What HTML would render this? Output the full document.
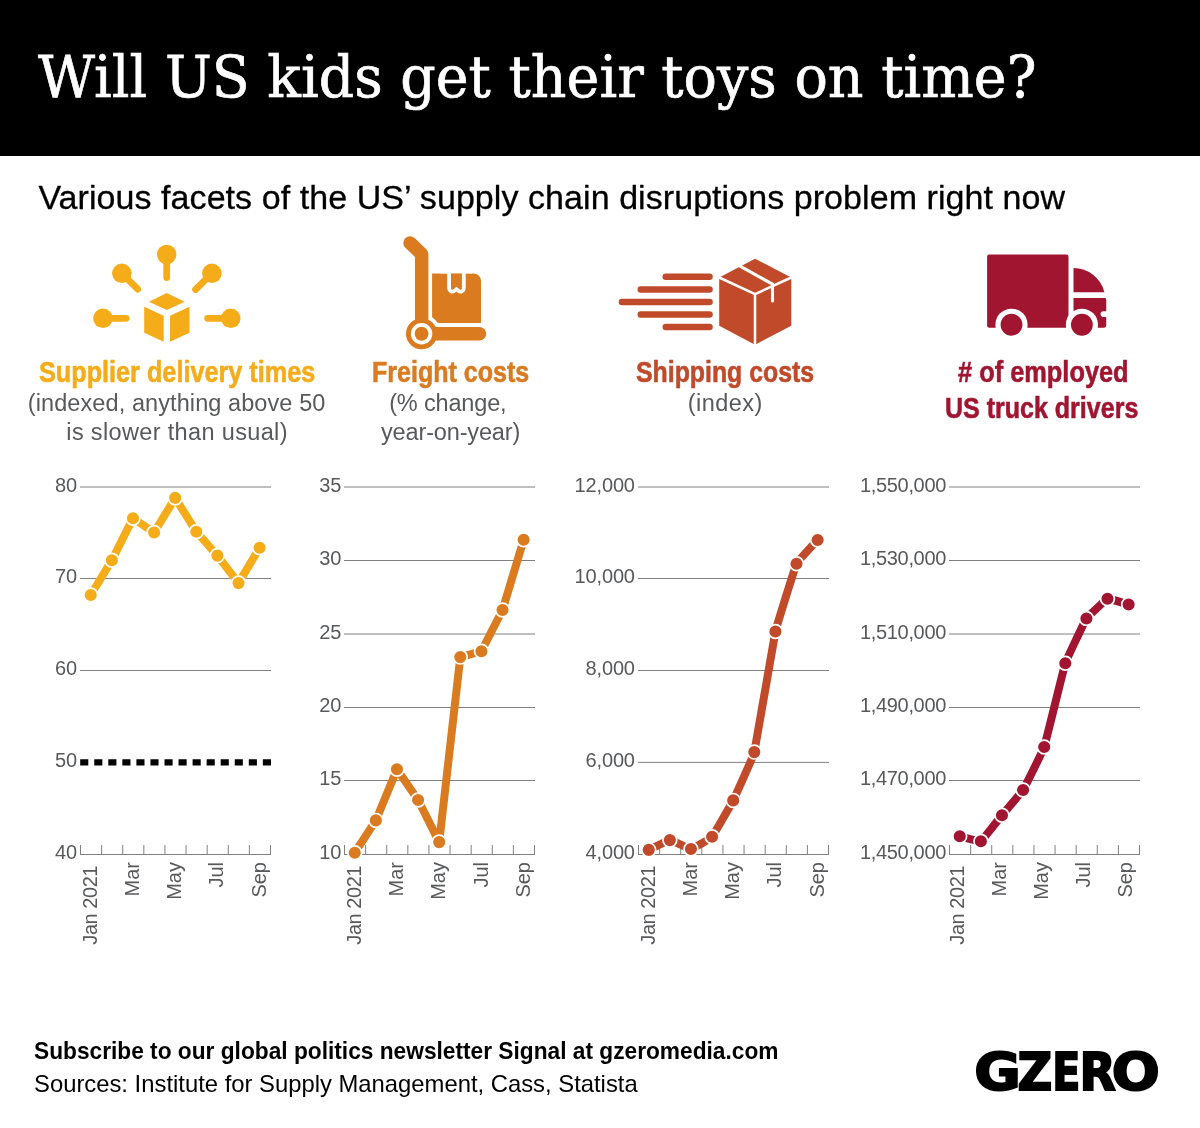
<!DOCTYPE html>
<html lang="en">
<head>
<meta charset="utf-8">
<title>Will US kids get their toys on time?</title>
<style>
html,body{margin:0;padding:0;background:#fff;}
body{width:1200px;height:1128px;position:relative;overflow:hidden;font-family:"Liberation Sans",sans-serif;color:#000;}
.hdr{position:absolute;left:0;top:0;width:1200px;height:156px;background:#000;}
.t{position:absolute;white-space:nowrap;margin:0;line-height:1;}
.t{transform-origin:0 0;}
h1.t{color:#fff;font-family:"DejaVu Serif","Liberation Serif",serif;font-weight:normal;-webkit-text-stroke:0.7px #fff;}
.sub{-webkit-text-stroke:0.3px #000;}
.ct{font-weight:bold;-webkit-text-stroke:0.6px currentColor;}
.cs{color:#58595B;}
svg{position:absolute;left:0;top:0;}
.ax{font-family:"Liberation Sans",sans-serif;font-size:20px;fill:#58595B;}
</style>
</head>
<body>
<div class="hdr"></div>
<h1 class="t" id="title" style="left:37.76px;top:48.11px;font-size:58.2px;transform:scaleX(0.9534);">Will US kids get their toys on time?</h1>
<p class="t sub" id="sub" style="left:38.38px;top:180.31px;font-size:34px;letter-spacing:0.063px;">Various facets of the US’ supply chain disruptions problem right now</p>

<svg width="1200" height="1128" viewBox="0 0 1200 1128">
<g id="icons">
<g id="icon-supplier" fill="#F5AC19" stroke="#F5AC19" stroke-width="6.75" stroke-linecap="round">
<path d="M166.7,254.5V277.6M121.85,273.35L137.7,289.2M211.85,273.35L195.6,289.5M102.95,318.35H126.1M230.75,318.35H207.6" fill="none"/>
<g stroke="none">
<circle cx="166.7" cy="254.5" r="9.75"/><circle cx="121.85" cy="273.35" r="9.75"/><circle cx="211.85" cy="273.35" r="9.75"/>
<circle cx="102.95" cy="318.35" r="9.75"/><circle cx="230.75" cy="318.35" r="9.75"/>
<path d="M166.7,293L184.7,301.7L166.7,310L149,301.7Z"/>
<path d="M144.2,306.8L163.7,315.8V341.75L144.2,332.75Z"/>
<path d="M170,315.8L189.5,306.8V332.75L170,341.75Z"/>
</g>
</g>
<g id="icon-freight" fill="#DA7B20">
<path d="M432.1,273.4H473.5A7.5,7.5 0 0 1 481,280.9V323.1H432.1Z"/>
<circle cx="421.6" cy="333.75" r="19.5" fill="#fff"/>
<path d="M451,270H461.9V288.4A1.3,1.3 0 0 1 459.8,289.4L456.45,286.7L453.1,289.4A1.3,1.3 0 0 1 451,288.4Z" fill="#fff" stroke="#fff" stroke-width="7.6" stroke-linejoin="round"/>
<path d="M451,270H461.9V288.4A1.3,1.3 0 0 1 459.8,289.4L456.45,286.7L453.1,289.4A1.3,1.3 0 0 1 451,288.4Z"/><rect x="440" y="262" width="32" height="11.4" fill="#fff"/>
<path d="M410,242.9L421.7,254.1V333.75" fill="none" stroke="#DA7B20" stroke-width="13.4" stroke-linecap="round" stroke-linejoin="round"/>
<path d="M421.6,333.75H479.4" fill="none" stroke="#DA7B20" stroke-width="13.7" stroke-linecap="round"/>
<circle cx="421.6" cy="333.75" r="15.6"/>
<circle cx="421.6" cy="333.75" r="10.75" fill="#fff"/>
<circle cx="421.6" cy="333.75" r="6.9"/>
</g>
<g id="icon-shipping" fill="#C04A29">
<path d="M665.8,276.8H709.5M640.8,289.5H709.5M622,302H709.5M640.8,314.5H709.5M665.8,327H709.5" fill="none" stroke="#C04A29" stroke-width="6.6" stroke-linecap="round"/>
<path d="M755,258.7L791.3,277.5V325.8L755,344.7L719.2,325.8V277.5Z"/>
<path d="M719.2,277.5L755,294.2L791.3,277.5M755,294.2V345" fill="none" stroke="#fff" stroke-width="2.5" stroke-linecap="round"/>
<path d="M740.5,266.4L772.5,284.2V301" fill="none" stroke="#fff" stroke-width="3.1" stroke-linecap="round" stroke-linejoin="round"/>
</g>
<g id="icon-truck" fill="#A11531">
<rect x="987.1" y="254.6" width="81.4" height="73.15" rx="2.2"/>
<path d="M1073.5,268.1A31.9,31.9 0 0 1 1104.4,292.25H1073.5Z"/>
<path d="M1073.5,297.9H1105.6L1106.25,300V325.6A2.2,2.2 0 0 1 1104,327.75H1073.5Z"/>
<path d="M1107,311.25H1103.4A2.8,2.8 0 0 0 1103.4,316.9H1107Z" fill="#fff"/>
<circle cx="1011.5" cy="324.75" r="16.1" fill="#fff"/>
<circle cx="1081.9" cy="324.75" r="16.1" fill="#fff"/>
<circle cx="1011.5" cy="324.75" r="10.9"/>
<circle cx="1081.9" cy="324.75" r="10.9"/>
</g>

</g>
<g id="chart1">
<line x1="80.00" x2="271.00" y1="487.00" y2="487.00" stroke="#808080" stroke-width="1"/>
<line x1="80.00" x2="271.00" y1="578.50" y2="578.50" stroke="#808080" stroke-width="1"/>
<line x1="80.00" x2="271.00" y1="670.50" y2="670.50" stroke="#808080" stroke-width="1"/>
<line x1="80.20" x2="271.00" y1="762.40" y2="762.40" stroke="#000" stroke-width="6.4" stroke-dasharray="8.1 5.95"/>
<text x="77.20" y="491.90" text-anchor="end" class="ax">80</text>
<text x="77.20" y="583.40" text-anchor="end" class="ax">70</text>
<text x="77.20" y="675.40" text-anchor="end" class="ax">60</text>
<text x="77.20" y="767.30" text-anchor="end" class="ax">50</text>
<text x="77.20" y="859.40" text-anchor="end" class="ax">40</text>
<path d="M80.00,854.50H271.00M80.50,855.00V845.00M101.61,855.00V845.00M122.72,855.00V845.00M143.83,855.00V845.00M164.94,855.00V845.00M186.05,855.00V845.00M207.16,855.00V845.00M228.27,855.00V845.00M249.38,855.00V845.00M270.49,855.00V845.00" stroke="#808080" stroke-width="1" fill="none"/>
<path d="M90.75,595.00L111.86,560.20L132.97,518.30L154.08,532.50L175.19,497.90L196.30,531.70L217.41,555.60L238.52,583.10L259.63,547.70" stroke="#F5AC19" stroke-width="8" fill="none" stroke-linejoin="round" stroke-linecap="round"/>
<circle cx="90.75" cy="595.00" r="6.9" fill="#F5AC19" stroke="#fff" stroke-width="1.7"/>
<circle cx="111.86" cy="560.20" r="6.9" fill="#F5AC19" stroke="#fff" stroke-width="1.7"/>
<circle cx="132.97" cy="518.30" r="6.9" fill="#F5AC19" stroke="#fff" stroke-width="1.7"/>
<circle cx="154.08" cy="532.50" r="6.9" fill="#F5AC19" stroke="#fff" stroke-width="1.7"/>
<circle cx="175.19" cy="497.90" r="6.9" fill="#F5AC19" stroke="#fff" stroke-width="1.7"/>
<circle cx="196.30" cy="531.70" r="6.9" fill="#F5AC19" stroke="#fff" stroke-width="1.7"/>
<circle cx="217.41" cy="555.60" r="6.9" fill="#F5AC19" stroke="#fff" stroke-width="1.7"/>
<circle cx="238.52" cy="583.10" r="6.9" fill="#F5AC19" stroke="#fff" stroke-width="1.7"/>
<circle cx="259.63" cy="547.70" r="6.9" fill="#F5AC19" stroke="#fff" stroke-width="1.7"/>
<text transform="translate(96.75,866.00) rotate(-90)" text-anchor="end" class="ax" letter-spacing="-0.46">Jan 2021</text>
<text transform="translate(138.97,862.00) rotate(-90)" text-anchor="end" class="ax">Mar</text>
<text transform="translate(181.19,862.00) rotate(-90)" text-anchor="end" class="ax">May</text>
<text transform="translate(223.41,862.00) rotate(-90)" text-anchor="end" class="ax">Jul</text>
<text transform="translate(265.63,862.00) rotate(-90)" text-anchor="end" class="ax">Sep</text>
</g>
<g id="chart2">
<line x1="344.00" x2="535.00" y1="487.00" y2="487.00" stroke="#808080" stroke-width="1"/>
<line x1="344.00" x2="535.00" y1="560.50" y2="560.50" stroke="#808080" stroke-width="1"/>
<line x1="344.00" x2="535.00" y1="634.00" y2="634.00" stroke="#808080" stroke-width="1"/>
<line x1="344.00" x2="535.00" y1="707.50" y2="707.50" stroke="#808080" stroke-width="1"/>
<line x1="344.00" x2="535.00" y1="780.50" y2="780.50" stroke="#808080" stroke-width="1"/>
<text x="341.40" y="491.90" text-anchor="end" class="ax">35</text>
<text x="341.40" y="565.40" text-anchor="end" class="ax">30</text>
<text x="341.40" y="638.90" text-anchor="end" class="ax">25</text>
<text x="341.40" y="712.40" text-anchor="end" class="ax">20</text>
<text x="341.40" y="785.40" text-anchor="end" class="ax">15</text>
<text x="341.40" y="859.40" text-anchor="end" class="ax">10</text>
<path d="M344.00,854.50H535.00M344.50,855.00V845.00M365.61,855.00V845.00M386.72,855.00V845.00M407.83,855.00V845.00M428.94,855.00V845.00M450.05,855.00V845.00M471.16,855.00V845.00M492.27,855.00V845.00M513.38,855.00V845.00M534.49,855.00V845.00" stroke="#808080" stroke-width="1" fill="none"/>
<path d="M354.75,852.75L375.86,820.40L396.97,769.20L418.08,800.00L439.19,842.10L460.30,657.10L481.41,651.25L502.52,610.00L523.63,539.80" stroke="#DA7B20" stroke-width="8" fill="none" stroke-linejoin="round" stroke-linecap="round"/>
<circle cx="354.75" cy="852.75" r="6.9" fill="#DA7B20" stroke="#fff" stroke-width="1.7"/>
<circle cx="375.86" cy="820.40" r="6.9" fill="#DA7B20" stroke="#fff" stroke-width="1.7"/>
<circle cx="396.97" cy="769.20" r="6.9" fill="#DA7B20" stroke="#fff" stroke-width="1.7"/>
<circle cx="418.08" cy="800.00" r="6.9" fill="#DA7B20" stroke="#fff" stroke-width="1.7"/>
<circle cx="439.19" cy="842.10" r="6.9" fill="#DA7B20" stroke="#fff" stroke-width="1.7"/>
<circle cx="460.30" cy="657.10" r="6.9" fill="#DA7B20" stroke="#fff" stroke-width="1.7"/>
<circle cx="481.41" cy="651.25" r="6.9" fill="#DA7B20" stroke="#fff" stroke-width="1.7"/>
<circle cx="502.52" cy="610.00" r="6.9" fill="#DA7B20" stroke="#fff" stroke-width="1.7"/>
<circle cx="523.63" cy="539.80" r="6.9" fill="#DA7B20" stroke="#fff" stroke-width="1.7"/>
<text transform="translate(360.85,866.00) rotate(-90)" text-anchor="end" class="ax" letter-spacing="-0.46">Jan 2021</text>
<text transform="translate(403.07,862.00) rotate(-90)" text-anchor="end" class="ax">Mar</text>
<text transform="translate(445.29,862.00) rotate(-90)" text-anchor="end" class="ax">May</text>
<text transform="translate(487.51,862.00) rotate(-90)" text-anchor="end" class="ax">Jul</text>
<text transform="translate(529.73,862.00) rotate(-90)" text-anchor="end" class="ax">Sep</text>
</g>
<g id="chart3">
<line x1="638.00" x2="829.00" y1="487.00" y2="487.00" stroke="#808080" stroke-width="1"/>
<line x1="638.00" x2="829.00" y1="578.50" y2="578.50" stroke="#808080" stroke-width="1"/>
<line x1="638.00" x2="829.00" y1="670.50" y2="670.50" stroke="#808080" stroke-width="1"/>
<line x1="638.00" x2="829.00" y1="762.40" y2="762.40" stroke="#808080" stroke-width="1"/>
<text x="634.85" y="491.90" text-anchor="end" class="ax" letter-spacing="-0.15">12,000</text>
<text x="634.85" y="583.40" text-anchor="end" class="ax" letter-spacing="-0.15">10,000</text>
<text x="634.85" y="675.40" text-anchor="end" class="ax" letter-spacing="-0.15">8,000</text>
<text x="634.85" y="767.30" text-anchor="end" class="ax" letter-spacing="-0.15">6,000</text>
<text x="634.85" y="859.40" text-anchor="end" class="ax" letter-spacing="-0.15">4,000</text>
<path d="M638.00,854.50H829.00M638.50,855.00V845.00M659.61,855.00V845.00M680.72,855.00V845.00M701.83,855.00V845.00M722.94,855.00V845.00M744.05,855.00V845.00M765.16,855.00V845.00M786.27,855.00V845.00M807.38,855.00V845.00M828.49,855.00V845.00" stroke="#808080" stroke-width="1" fill="none"/>
<path d="M648.75,849.90C649.38,849.61 668.59,840.13 669.86,840.10C671.13,840.07 689.70,849.10 690.97,849.00C692.24,848.90 710.81,838.26 712.08,836.80C713.35,835.34 731.92,802.94 733.19,800.40C734.46,797.86 753.03,757.17 754.30,752.10C755.57,747.03 774.14,637.15 775.41,631.50C776.68,625.85 795.25,566.54 796.52,563.80C797.79,561.05 817.00,540.71 817.63,540.00" stroke="#C04A29" stroke-width="8" fill="none" stroke-linejoin="round" stroke-linecap="round"/>
<circle cx="648.75" cy="849.90" r="6.9" fill="#C04A29" stroke="#fff" stroke-width="1.7"/>
<circle cx="669.86" cy="840.10" r="6.9" fill="#C04A29" stroke="#fff" stroke-width="1.7"/>
<circle cx="690.97" cy="849.00" r="6.9" fill="#C04A29" stroke="#fff" stroke-width="1.7"/>
<circle cx="712.08" cy="836.80" r="6.9" fill="#C04A29" stroke="#fff" stroke-width="1.7"/>
<circle cx="733.19" cy="800.40" r="6.9" fill="#C04A29" stroke="#fff" stroke-width="1.7"/>
<circle cx="754.30" cy="752.10" r="6.9" fill="#C04A29" stroke="#fff" stroke-width="1.7"/>
<circle cx="775.41" cy="631.50" r="6.9" fill="#C04A29" stroke="#fff" stroke-width="1.7"/>
<circle cx="796.52" cy="563.80" r="6.9" fill="#C04A29" stroke="#fff" stroke-width="1.7"/>
<circle cx="817.63" cy="540.00" r="6.9" fill="#C04A29" stroke="#fff" stroke-width="1.7"/>
<text transform="translate(654.75,866.00) rotate(-90)" text-anchor="end" class="ax" letter-spacing="-0.46">Jan 2021</text>
<text transform="translate(696.97,862.00) rotate(-90)" text-anchor="end" class="ax">Mar</text>
<text transform="translate(739.19,862.00) rotate(-90)" text-anchor="end" class="ax">May</text>
<text transform="translate(781.41,862.00) rotate(-90)" text-anchor="end" class="ax">Jul</text>
<text transform="translate(823.63,862.00) rotate(-90)" text-anchor="end" class="ax">Sep</text>
</g>
<g id="chart4">
<line x1="949.00" x2="1140.00" y1="487.00" y2="487.00" stroke="#808080" stroke-width="1"/>
<line x1="949.00" x2="1140.00" y1="560.50" y2="560.50" stroke="#808080" stroke-width="1"/>
<line x1="949.00" x2="1140.00" y1="634.00" y2="634.00" stroke="#808080" stroke-width="1"/>
<line x1="949.00" x2="1140.00" y1="707.50" y2="707.50" stroke="#808080" stroke-width="1"/>
<line x1="949.00" x2="1140.00" y1="780.50" y2="780.50" stroke="#808080" stroke-width="1"/>
<text x="945.96" y="491.90" text-anchor="end" class="ax" letter-spacing="-0.34">1,550,000</text>
<text x="945.96" y="565.40" text-anchor="end" class="ax" letter-spacing="-0.34">1,530,000</text>
<text x="945.96" y="638.90" text-anchor="end" class="ax" letter-spacing="-0.34">1,510,000</text>
<text x="945.96" y="712.40" text-anchor="end" class="ax" letter-spacing="-0.34">1,490,000</text>
<text x="945.96" y="785.40" text-anchor="end" class="ax" letter-spacing="-0.34">1,470,000</text>
<text x="945.96" y="859.40" text-anchor="end" class="ax" letter-spacing="-0.34">1,450,000</text>
<path d="M949.00,854.50H1140.00M949.50,855.00V845.00M970.61,855.00V845.00M991.72,855.00V845.00M1012.83,855.00V845.00M1033.94,855.00V845.00M1055.05,855.00V845.00M1076.16,855.00V845.00M1097.27,855.00V845.00M1118.38,855.00V845.00M1139.49,855.00V845.00" stroke="#808080" stroke-width="1" fill="none"/>
<path d="M959.75,836.25C960.38,836.40 979.59,841.88 980.86,841.25C982.13,840.62 1000.70,816.79 1001.97,815.25C1003.24,813.71 1021.81,792.05 1023.08,790.00C1024.35,787.95 1042.92,750.80 1044.19,747.00C1045.46,743.20 1064.03,667.11 1065.30,663.25C1066.57,659.39 1085.14,620.43 1086.41,618.50C1087.68,616.57 1106.25,599.17 1107.52,598.75C1108.79,598.33 1128.00,604.33 1128.63,604.50" stroke="#A11531" stroke-width="8" fill="none" stroke-linejoin="round" stroke-linecap="round"/>
<circle cx="959.75" cy="836.25" r="6.9" fill="#A11531" stroke="#fff" stroke-width="1.7"/>
<circle cx="980.86" cy="841.25" r="6.9" fill="#A11531" stroke="#fff" stroke-width="1.7"/>
<circle cx="1001.97" cy="815.25" r="6.9" fill="#A11531" stroke="#fff" stroke-width="1.7"/>
<circle cx="1023.08" cy="790.00" r="6.9" fill="#A11531" stroke="#fff" stroke-width="1.7"/>
<circle cx="1044.19" cy="747.00" r="6.9" fill="#A11531" stroke="#fff" stroke-width="1.7"/>
<circle cx="1065.30" cy="663.25" r="6.9" fill="#A11531" stroke="#fff" stroke-width="1.7"/>
<circle cx="1086.41" cy="618.50" r="6.9" fill="#A11531" stroke="#fff" stroke-width="1.7"/>
<circle cx="1107.52" cy="598.75" r="6.9" fill="#A11531" stroke="#fff" stroke-width="1.7"/>
<circle cx="1128.63" cy="604.50" r="6.9" fill="#A11531" stroke="#fff" stroke-width="1.7"/>
<text transform="translate(963.55,866.00) rotate(-90)" text-anchor="end" class="ax" letter-spacing="-0.46">Jan 2021</text>
<text transform="translate(1005.77,862.00) rotate(-90)" text-anchor="end" class="ax">Mar</text>
<text transform="translate(1047.99,862.00) rotate(-90)" text-anchor="end" class="ax">May</text>
<text transform="translate(1090.21,862.00) rotate(-90)" text-anchor="end" class="ax">Jul</text>
<text transform="translate(1132.43,862.00) rotate(-90)" text-anchor="end" class="ax">Sep</text>
</g>
<text id="logo" y="1089.50" font-family="'DejaVu Sans','Liberation Sans',sans-serif" font-weight="bold" font-size="50.75" fill="#000" stroke="#000" stroke-width="2.0" stroke-linejoin="miter"><tspan x="974.27" textLength="46.62" lengthAdjust="spacingAndGlyphs">G</tspan><tspan x="1017.44" textLength="34.81" lengthAdjust="spacingAndGlyphs">Z</tspan><tspan x="1052.23" textLength="28.09" lengthAdjust="spacingAndGlyphs">E</tspan><tspan x="1079.48" textLength="36.27" lengthAdjust="spacingAndGlyphs">R</tspan><tspan x="1111.78" textLength="48.06" lengthAdjust="spacingAndGlyphs">O</tspan></text>
</svg>

<h2 class="t ct" id="ct1" style="left:39.25px;top:357.21px;font-size:30px;color:#F5AC19;transform:scaleX(0.8410);">Supplier delivery times</h2>
<p class="t cs" id="cs1a" style="left:27.85px;top:392.01px;font-size:23.5px;letter-spacing:0.086px;">(indexed, anything above 50</p>
<p class="t cs" id="cs1b" style="left:66.34px;top:421.00px;font-size:23.5px;letter-spacing:0.348px;">is slower than usual)</p>
<h2 class="t ct" id="ct2" style="left:371.94px;top:357.21px;font-size:30px;color:#DA7B20;transform:scaleX(0.8347);">Freight costs</h2>
<p class="t cs" id="cs2a" style="left:389.19px;top:392.01px;font-size:23.5px;letter-spacing:-0.162px;">(% change,</p>
<p class="t cs" id="cs2b" style="left:381.03px;top:421.00px;font-size:23.5px;letter-spacing:-0.150px;">year-on-year)</p>
<h2 class="t ct" id="ct3" style="left:636.43px;top:357.21px;font-size:30px;color:#C04A29;transform:scaleX(0.8283);">Shipping costs</h2>
<p class="t cs" id="cs3a" style="left:687.85px;top:392.01px;font-size:23.5px;letter-spacing:0.429px;">(index)</p>
<h2 class="t ct" id="ct4a" style="left:958.09px;top:357.21px;font-size:30px;color:#A11531;transform:scaleX(0.8458);"># of employed</h2>
<h2 class="t ct" id="ct4b" style="left:945.27px;top:393.31px;font-size:30px;color:#A11531;transform:scaleX(0.8340);">US truck drivers</h2>
<p class="t ft" id="ft1" style="left:34.30px;top:1038.60px;font-size:24px;transform:scaleX(0.9462);"><b>Subscribe to our global politics newsletter Signal at gzeromedia.com</b></p>
<p class="t ft" id="ft2" style="left:33.56px;top:1071.60px;font-size:24px;transform:scaleX(0.9924);">Sources: Institute for Supply Management, Cass, Statista</p>
</body>
</html>
